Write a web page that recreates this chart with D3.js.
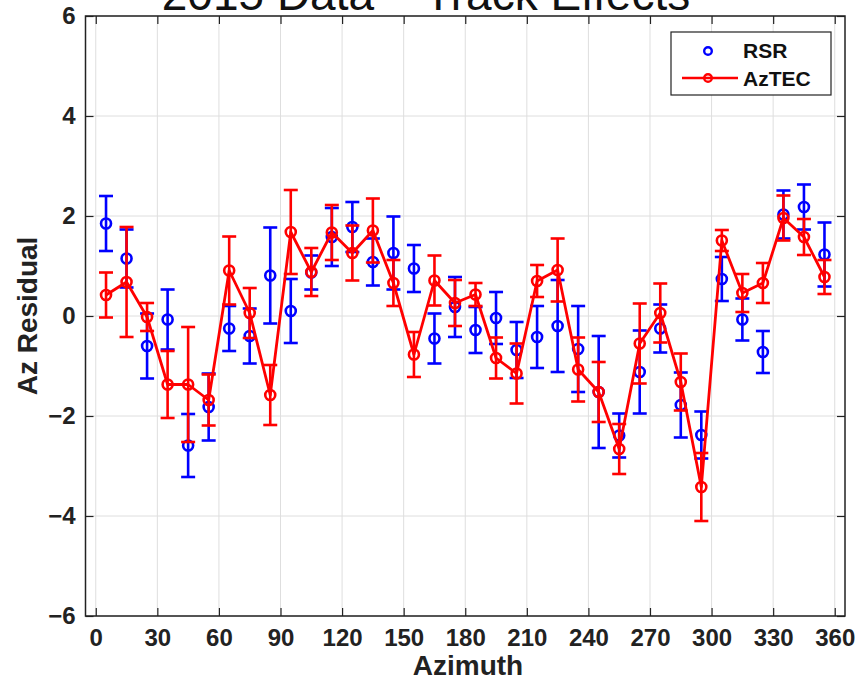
<!DOCTYPE html>
<html>
<head>
<meta charset="utf-8">
<script src="https://cdn.jsdelivr.net/npm/d3@7"></script>
<style>
  html, body { margin: 0; padding: 0; background: #fff; }
  svg { display: block; font-family: "Liberation Sans", Arial, Helvetica, sans-serif; }
</style>
</head>
<body>
<svg id="chart" width="859" height="686"></svg>
<script>
// Azimuth bins (deg)
const azimuth = [5, 15, 25, 35, 45, 55, 65, 75, 85, 95, 105, 115, 125, 135, 145, 155, 165, 175,
                 185, 195, 205, 215, 225, 235, 245, 255, 265, 275, 285, 295, 305, 315, 325, 335, 345, 355];

// RSR residuals and 1-sigma errors
const rsrValues = [1.85, 1.15, -0.60, -0.07, -2.59, -1.82, -0.25, -0.40, 0.81, 0.10, 0.87, 1.58,
                   1.78, 1.08, 1.26, 0.95, -0.45, 0.18, -0.28, -0.04, -0.68, -0.42, -0.20, -0.66,
                   -1.52, -2.39, -1.12, -0.25, -1.78, -2.38, 0.74, -0.07, -0.72, 2.03, 2.18, 1.23];
const rsrErrors = [0.55, 0.58, 0.65, 0.60, 0.63, 0.67, 0.45, 0.55, 0.96, 0.64, 0.34, 0.58,
                   0.50, 0.47, 0.73, 0.47, 0.50, 0.60, 0.46, 0.52, 0.56, 0.62, 0.92, 0.86,
                   1.12, 0.44, 0.83, 0.48, 0.65, 0.47, 0.44, 0.42, 0.42, 0.48, 0.45, 0.64];

// AzTEC residuals and 1-sigma errors
const aztecValues = [0.42, 0.68, -0.02, -1.37, -1.37, -1.68, 0.91, 0.06, -1.58, 1.68, 0.88, 1.67,
                     1.26, 1.71, 0.66, -0.77, 0.71, 0.26, 0.43, -0.84, -1.15, 0.70, 0.92, -1.07,
                     -1.52, -2.66, -0.55, 0.06, -1.32, -3.42, 1.51, 0.46, 0.66, 1.96, 1.58, 0.78];
const aztecErrors = [0.45, 1.10, 0.28, 0.67, 1.15, 0.51, 0.68, 0.50, 0.60, 0.84, 0.48, 0.55,
                     0.55, 0.64, 0.46, 0.45, 0.50, 0.46, 0.23, 0.41, 0.60, 0.32, 0.63, 0.64,
                     0.60, 0.50, 0.80, 0.59, 0.57, 0.68, 0.21, 0.38, 0.40, 0.45, 0.36, 0.34];

const xTicks = [0, 30, 60, 90, 120, 150, 180, 210, 240, 270, 300, 330, 360];
const yTicks = [-6, -4, -2, 0, 2, 4, 6];

const titleText = "2015 Data \u2013 Track Effects";
const xLabel = "Azimuth";
const yLabel = "Az Residual";

const svg = d3.select("#chart");

const plotLeft = 85.5, plotRight = 845, plotTop = 16, plotBottom = 616;
const x = d3.scaleLinear().domain([-5, 365]).range([plotLeft, plotRight]);
const y = d3.scaleLinear().domain([-6, 6]).range([plotBottom, plotTop]);

// grid
const grid = svg.append("g").attr("stroke", "#dedede").attr("stroke-width", 1);
grid.selectAll("line.gx").data(xTicks).join("line")
  .attr("x1", d => x(d)).attr("x2", d => x(d)).attr("y1", plotTop).attr("y2", plotBottom);
grid.selectAll("line.gy").data(yTicks).join("line")
  .attr("y1", d => y(d)).attr("y2", d => y(d)).attr("x1", plotLeft).attr("x2", plotRight);

// axes (ticks pointing inward on all sides)
const tickFont = "bold 24px 'Liberation Sans', Arial, sans-serif";
const axB = svg.append("g").attr("transform", `translate(0,${plotBottom})`)
  .call(d3.axisBottom(x).tickValues(xTicks).tickSizeInner(-8).tickSizeOuter(0).tickPadding(13));
const axL = svg.append("g").attr("transform", `translate(${plotLeft},0)`)
  .call(d3.axisLeft(y).tickValues(yTicks).tickSizeInner(-8).tickSizeOuter(0).tickPadding(10));
const axT = svg.append("g").attr("transform", `translate(0,${plotTop})`)
  .call(d3.axisTop(x).tickValues(xTicks).tickSizeInner(-8).tickSizeOuter(0).tickFormat(""));
const axR = svg.append("g").attr("transform", `translate(${plotRight},0)`)
  .call(d3.axisRight(y).tickValues(yTicks).tickSizeInner(-8).tickSizeOuter(0).tickFormat(""));
[axB, axL, axT, axR].forEach(a => {
  a.select(".domain").remove();
  a.selectAll(".tick line").attr("stroke", "#222").attr("stroke-width", 1.2);
  a.selectAll(".tick text").style("font", tickFont).attr("fill", "#222");
});

// series
function drawSeries(vals, errs, color, withLine) {
  const g = svg.append("g");
  const pts = azimuth.map((a, i) => ({ a, v: vals[i], e: errs[i] }));
  const cap = 7;
  const eb = g.append("g").attr("stroke", color).attr("stroke-width", 2.6).attr("fill", "none");
  eb.selectAll("line.v").data(pts).join("line")
    .attr("x1", d => x(d.a)).attr("x2", d => x(d.a))
    .attr("y1", d => y(d.v - d.e)).attr("y2", d => y(d.v + d.e));
  eb.selectAll("line.t").data(pts).join("line")
    .attr("x1", d => x(d.a) - cap).attr("x2", d => x(d.a) + cap)
    .attr("y1", d => y(d.v + d.e)).attr("y2", d => y(d.v + d.e));
  eb.selectAll("line.b").data(pts).join("line")
    .attr("x1", d => x(d.a) - cap).attr("x2", d => x(d.a) + cap)
    .attr("y1", d => y(d.v - d.e)).attr("y2", d => y(d.v - d.e));
  if (withLine) {
    g.append("path").datum(pts)
      .attr("fill", "none").attr("stroke", color).attr("stroke-width", 2.8)
      .attr("stroke-linejoin", "round")
      .attr("d", d3.line().x(d => x(d.a)).y(d => y(d.v)));
  }
  g.selectAll("circle").data(pts).join("circle")
    .attr("cx", d => x(d.a)).attr("cy", d => y(d.v)).attr("r", 5)
    .attr("fill", "none").attr("stroke", color).attr("stroke-width", 2.6);
}
drawSeries(rsrValues, rsrErrors, "#0000ff", false);
drawSeries(aztecValues, aztecErrors, "#ff0000", true);

// frame
svg.append("rect").attr("x", plotLeft).attr("y", plotTop)
  .attr("width", plotRight - plotLeft).attr("height", plotBottom - plotTop)
  .attr("fill", "none").attr("stroke", "#222").attr("stroke-width", 1.5);

// legend
const legendFont = "bold 21px 'Liberation Sans', Arial, sans-serif";
const lg = svg.append("g");
lg.append("rect").attr("x", 671).attr("y", 32).attr("width", 160).attr("height", 63)
  .attr("fill", "#fff").attr("stroke", "#222").attr("stroke-width", 1.2);
lg.append("circle").attr("cx", 708).attr("cy", 51).attr("r", 3.8)
  .attr("fill", "none").attr("stroke", "#0000ff").attr("stroke-width", 2.4);
lg.append("line").attr("x1", 682).attr("x2", 738).attr("y1", 78).attr("y2", 78)
  .attr("stroke", "#ff0000").attr("stroke-width", 2.6);
lg.append("circle").attr("cx", 708).attr("cy", 78).attr("r", 3.8)
  .attr("fill", "none").attr("stroke", "#ff0000").attr("stroke-width", 2.4);
lg.append("text").attr("x", 743).attr("y", 58).text("RSR")
  .style("font", legendFont).attr("fill", "#111");
lg.append("text").attr("x", 743).attr("y", 86).text("AzTEC")
  .style("font", legendFont).attr("fill", "#111");

// axis labels
const labelFont = "bold 28px 'Liberation Sans', Arial, sans-serif";
svg.append("text").attr("x", 468).attr("y", 675).attr("text-anchor", "middle")
  .style("font", labelFont).attr("fill", "#222").text(xLabel);
svg.append("text").attr("transform", "translate(37,316) rotate(-90)").attr("text-anchor", "middle")
  .style("font", labelFont).attr("fill", "#222").text(yLabel);

// title (runs off the top edge of the canvas)
svg.append("text").attr("x", 426).attr("y", 10).attr("text-anchor", "middle")
  .style("font", "46px 'Liberation Sans', Arial, sans-serif").attr("fill", "#111").text(titleText);
</script>
</body>
</html>
